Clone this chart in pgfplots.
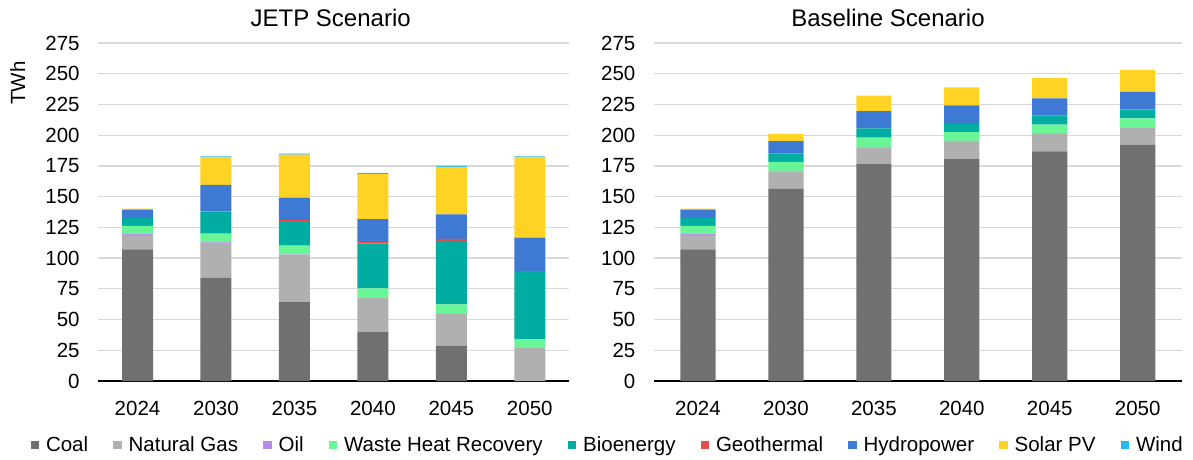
\documentclass[border=0pt]{standalone}
\usepackage{pgfplots}
\pgfplotsset{compat=1.18}
\usepackage{pgfplotstable}
\usepackage{fontspec}
\setmainfont{Liberation Sans}

\definecolor{coal}{HTML}{6F706F}
\definecolor{gas}{HTML}{B0B0B0}
\definecolor{oil}{HTML}{B48CF0}
\definecolor{whr}{HTML}{6AF596}
\definecolor{bio}{HTML}{00ADA0}
\definecolor{geo}{HTML}{E84B4B}
\definecolor{hydro}{HTML}{3E79D3}
\definecolor{solar}{HTML}{FFD324}
\definecolor{wind}{HTML}{22B8F0}
\definecolor{gridgray}{HTML}{D9D9D9}

% Generation by source (TWh), years 2024, 2030, 2035, 2040, 2045, 2050
\pgfplotstableread{
idx coal  gas  oil whr bio  geo hydro solar wind
0   107.2 11.7 1.1 6.3 6.3  0.0 6.8  0.8  0.0
1   84.0  28.4 0.3 7.3 17.8 0.2 21.5 22.4 0.8
2   64.1  38.8 0.2 7.1 19.1 1.7 18.2 34.9 0.9
3   40.2  27.6 0.1 7.4 36.6 1.3 18.6 36.5 1.0
4   28.6  26.5 0.1 7.2 51.6 1.6 19.9 38.8 0.8
5   0.0   26.7 0.0 7.4 54.5 0.8 27.3 65.2 0.8
}\jetp

\pgfplotstableread{
idx coal  gas  oil whr bio geo hydro solar wind
0   107.2 11.7 1.1 6.3 6.3 0.0 6.8  0.8  0.0
1   156.3 14.2 0.5 7.2 6.8 0.0 10.1 6.0  0.0
2   176.5 13.4 0.5 7.7 7.4 0.0 14.1 12.6 0.0
3   180.9 13.9 0.6 7.0 7.7 0.0 14.2 14.7 0.0
4   186.9 13.9 0.6 7.1 7.6 0.0 13.9 16.4 0.0
5   192.1 13.6 0.6 7.3 7.4 0.0 14.2 18.0 0.0
}\baseline

\pgfplotsset{
  genmix/.style={
    scale only axis, height=338pt,
    ymin=0, ymax=275, ytick={0,25,...,275},
    xmin=-0.5, xmax=5.5, xtick={0,...,5},
    xticklabels={2024,2030,2035,2040,2045,2050},
    enlargelimits=false,
    ybar stacked,
    ymajorgrids, grid style={line width=1.3pt, color=gridgray},
    separate axis lines, axis x line*=bottom, axis y line*=left,
    y axis line style={draw=none},
    x axis line style={-, black, line width=1.5pt},
    major tick length=0pt,
    /pgf/number format/assume math mode=true,
    tick label style={font=\fontsize{20.5}{24}\selectfont},
    yticklabel style={anchor=east, inner sep=0pt, xshift=-18.5pt},
    xticklabel style={anchor=base, inner sep=0pt, yshift=-34pt},
    title style={font=\fontsize{24}{28}\selectfont, anchor=base, inner sep=0pt, yshift=0pt},
    legend image code/.code={\fill[#1] (0pt,-2.35pt) rectangle (8.5pt,6.15pt);},
  }
}

\begin{document}
\begin{tikzpicture}
\path[use as bounding box] (0pt,0pt) rectangle (1193pt,-459pt);

\begin{axis}[genmix,
  at={(98.3pt,-381pt)}, anchor=south west, width=470.7pt,
  bar width=0.395,
  title={JETP Scenario},
  title style={at={(axis description cs:0.4937,1.0296)}},
  ylabel={TWh},
  ylabel style={at={(axis description cs:-0.1557,0.8817)}, anchor=base,
    inner sep=0pt, font=\fontsize{20.5}{24}\selectfont},
  legend columns=9,
  legend style={at={(axis description cs:-0.1440,-0.1944)}, anchor=west,
    draw=none, fill=none, inner sep=0pt, outer sep=0pt,
    font=\fontsize{20.5}{24}\selectfont,
    nodes={inner sep=0pt, text height=15pt, text depth=5pt},
    /tikz/every odd column/.append style={column sep=7pt},
    /tikz/every even column/.append style={column sep=25pt}},
]
\addplot[fill=coal,  draw=none] table[x=idx, y=coal]  {\jetp};
\addplot[fill=gas,   draw=none] table[x=idx, y=gas]   {\jetp};
\addplot[fill=oil,   draw=none] table[x=idx, y=oil]   {\jetp};
\addplot[fill=whr,   draw=none] table[x=idx, y=whr]   {\jetp};
\addplot[fill=bio,   draw=none] table[x=idx, y=bio]   {\jetp};
\addplot[fill=geo,   draw=none] table[x=idx, y=geo]   {\jetp};
\addplot[fill=hydro, draw=none] table[x=idx, y=hydro] {\jetp};
\addplot[fill=solar, draw=none] table[x=idx, y=solar] {\jetp};
\addplot[fill=wind,  draw=none] table[x=idx, y=wind]  {\jetp};
\legend{Coal, Natural Gas, Oil, Waste Heat Recovery, Bioenergy, Geothermal, Hydropower, Solar PV, Wind}
\end{axis}

\begin{axis}[genmix,
  at={(654pt,-381pt)}, anchor=south west, width=527.7pt,
  bar width=0.40,
  title={Baseline Scenario},
  title style={at={(axis description cs:0.4434,1.0296)}},
]
\addplot[fill=coal,  draw=none] table[x=idx, y=coal]  {\baseline};
\addplot[fill=gas,   draw=none] table[x=idx, y=gas]   {\baseline};
\addplot[fill=oil,   draw=none] table[x=idx, y=oil]   {\baseline};
\addplot[fill=whr,   draw=none] table[x=idx, y=whr]   {\baseline};
\addplot[fill=bio,   draw=none] table[x=idx, y=bio]   {\baseline};
\addplot[fill=geo,   draw=none] table[x=idx, y=geo]   {\baseline};
\addplot[fill=hydro, draw=none] table[x=idx, y=hydro] {\baseline};
\addplot[fill=solar, draw=none] table[x=idx, y=solar] {\baseline};
\addplot[fill=wind,  draw=none] table[x=idx, y=wind]  {\baseline};
\end{axis}
\end{tikzpicture}
\end{document}
